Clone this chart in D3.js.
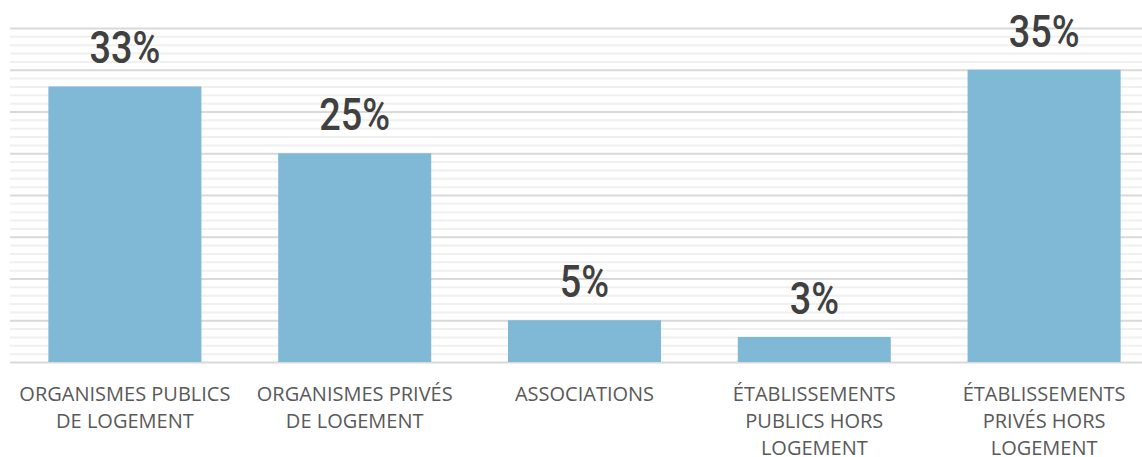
<!DOCTYPE html>
<html lang="fr">
<head>
<meta charset="utf-8">
<script src="https://cdn.jsdelivr.net/npm/d3@7"></script>
<style>
  html, body { margin: 0; padding: 0; background: #ffffff; }
  svg { display: block; }
</style>
</head>
<body>
<div id="chart"></div>
<script>
// Répartition par type de maître d'ouvrage (en %)
const categories = [
  "ORGANISMES PUBLICS|DE LOGEMENT",
  "ORGANISMES PRIVÉS|DE LOGEMENT",
  "ASSOCIATIONS",
  "ÉTABLISSEMENTS|PUBLICS HORS|LOGEMENT",
  "ÉTABLISSEMENTS|PRIVÉS HORS|LOGEMENT"
];
const values = [33, 25, 5, 3, 35];
const yMax = 40;
const majorStep = 5;
const minorStep = 1;

const width = 1142, height = 457;
const plot = { left: 10, right: 1159, top: 28, bottom: 362 };

const svg = d3.select("#chart").append("svg")
  .attr("width", width)
  .attr("height", height);

const x = d3.scaleBand()
  .domain(categories)
  .range([plot.left, plot.right])
  .paddingInner(0.334)
  .paddingOuter(0.167);

const y = d3.scaleLinear()
  .domain([0, yMax])
  .range([plot.bottom, plot.top]);

// Minor gridlines every 1 %
const minorTicks = d3.range(0, yMax + minorStep, minorStep).filter(v => v % majorStep !== 0);
svg.append("g")
  .attr("class", "grid-minor")
  .attr("transform", `translate(${plot.left},0)`)
  .call(d3.axisLeft(y).tickValues(minorTicks).tickSize(-(width - plot.left)).tickFormat(""))
  .call(g => g.select(".domain").remove())
  .call(g => g.selectAll("line").attr("stroke", "#f0f0f0").attr("stroke-width", 2));

// Major gridlines every 5 %
const majorTicks = d3.range(0, yMax + majorStep, majorStep);
svg.append("g")
  .attr("class", "grid-major")
  .attr("transform", `translate(${plot.left},0)`)
  .call(d3.axisLeft(y).tickValues(majorTicks).tickSize(-(width - plot.left)).tickFormat(""))
  .call(g => g.select(".domain").remove())
  .call(g => g.selectAll("line").attr("stroke", "#d9d9d9").attr("stroke-width", 2));

const data = categories.map((c, i) => ({ cat: c, value: values[i] }));

// Bars
svg.append("g")
  .selectAll("rect")
  .data(data)
  .join("rect")
  .attr("x", d => x(d.cat))
  .attr("y", d => y(d.value))
  .attr("width", x.bandwidth())
  .attr("height", d => y(0) - y(d.value))
  .attr("fill", "#80b9d6");

// Value labels above bars
svg.append("g")
  .selectAll("text")
  .data(data)
  .join("text")
  .attr("transform", d => `translate(${x(d.cat) + x.bandwidth() / 2},${y(d.value) - 23}) scale(0.86,1)`)
  .attr("text-anchor", "middle")
  .attr("font-family", "Roboto, 'Noto Sans', sans-serif")
  .attr("font-weight", 500)
  .attr("font-size", 44)
  .attr("fill", "#404040")
  .text(d => d.value + "%");

// Category labels (wrapped)
const xAxis = svg.append("g")
  .attr("transform", `translate(0,${plot.bottom})`)
  .call(d3.axisBottom(x).tickSize(0).tickFormat(""))
  .call(g => g.select(".domain").remove());

xAxis.selectAll(".tick").each(function(d) {
  const lines = d.split("|");
  const t = d3.select(this).append("text")
    .attr("text-anchor", "middle")
    .attr("font-family", "'Open Sans', sans-serif")
    .attr("font-size", 20)
    .attr("fill", "#595959");
  lines.forEach((ln, i) => {
    t.append("tspan").attr("x", 0).attr("y", 39 + i * 27).text(ln);
  });
});
</script>
</body>
</html>
